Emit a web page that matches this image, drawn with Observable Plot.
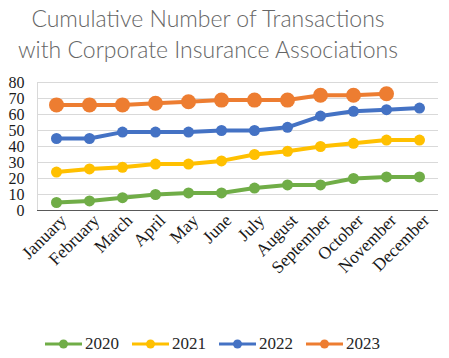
<!DOCTYPE html>
<html><head><meta charset="utf-8">
<script src="https://cdn.jsdelivr.net/npm/d3@7"></script>
<script src="https://cdn.jsdelivr.net/npm/@observablehq/plot@0.6"></script>
<style>
body{margin:0;background:#fff;width:449px;height:358px;position:relative;overflow:hidden}
#title{position:absolute;left:0;top:3px;width:416px;text-align:center;font-family:Lato,sans-serif;font-weight:300;font-size:23px;color:#666;line-height:31px;white-space:nowrap}
#chart{position:absolute;left:0;top:72px}
#legend{position:absolute;left:45px;top:334px;display:flex;align-items:center;font-family:"Liberation Serif",serif;font-size:17px;color:#262626}
.item{display:flex;align-items:center;margin-right:13px}
.item svg{margin-right:3px}
</style></head><body>
<div id="title">Cumulative Number of Transactions<br>with Corporate Insurance Associations</div>
<div id="chart"></div>
<div id="legend"></div>
<script>
const months = ["January","February","March","April","May","June","July","August","September","October","November","December"];
const years = ["2020","2021","2022","2023"];
const colors = ["#70AD47","#FFC000","#4472C4","#ED7D31"];
const v2020 = [5,6,8,10,11,11,14,16,16,20,21,21];
const v2021 = [24,26,27,29,29,31,35,37,40,42,44,44];
const v2022 = [45,45,49,49,49,50,50,52,59,62,63,64];
const v2023 = [66,66,66,67,68,69,69,69,72,72,73,null];
const yTicks = [0,10,20,30,40,50,60,70,80];
const series = [v2020,v2021,v2022,v2023];
const radii = [5.5,5.5,5.5,7.5];

const data = [];
series.forEach((vals,k)=>{
  const rows = months.map((m,i)=>({month:m,value:vals[i],year:years[k]})).filter(d=>d.value!=null);
  data.push(...rows);
});
const marks = [
  Plot.gridY(yTicks,{stroke:"#d9d9d9",strokeOpacity:1}),
  Plot.frame({anchor:"left",stroke:"#d9d9d9"}),
  Plot.ruleY([0],{stroke:"#595959",strokeWidth:1.2}),
  Plot.axisY(yTicks,{tickSize:0,tickPadding:13,fontSize:16,fill:"#1a1a1a",label:null}),
  Plot.axisX(months,{tickSize:0,tickRotate:-45,fontSize:17.5,fill:"#1a1a1a",label:null,tickPadding:2,dx:7,dy:5})
];
years.forEach((yr,k)=>{
  const rows = data.filter(d=>d.year===yr);
  marks.push(Plot.line(rows,{x:"month",y:"value",stroke:colors[k],strokeWidth:4}));
  marks.push(Plot.dot(rows,{x:"month",y:"value",fill:colors[k],r:radii[k]}));
});

const chart = Plot.plot({
  width:449, height:250,
  marginLeft:37, marginRight:11, marginTop:10, marginBottom:112,
  style:{fontFamily:"'Liberation Serif', serif", background:"transparent"},
  x:{type:"point", domain:months, padding:0.5},
  y:{domain:[0,80]},
  marks
});
document.getElementById("chart").append(chart);

const legend = document.getElementById("legend");
years.forEach((yr,k)=>{
  const it = document.createElement("div");
  it.className="item";
  it.innerHTML = `<svg width="37" height="12"><line x1="0" x2="37" y1="6" y2="6" stroke="${colors[k]}" stroke-width="3"/><circle cx="18.5" cy="6" r="4.5" fill="${colors[k]}"/></svg><span>${yr}</span>`;
  legend.append(it);
});
</script>
</body></html>
